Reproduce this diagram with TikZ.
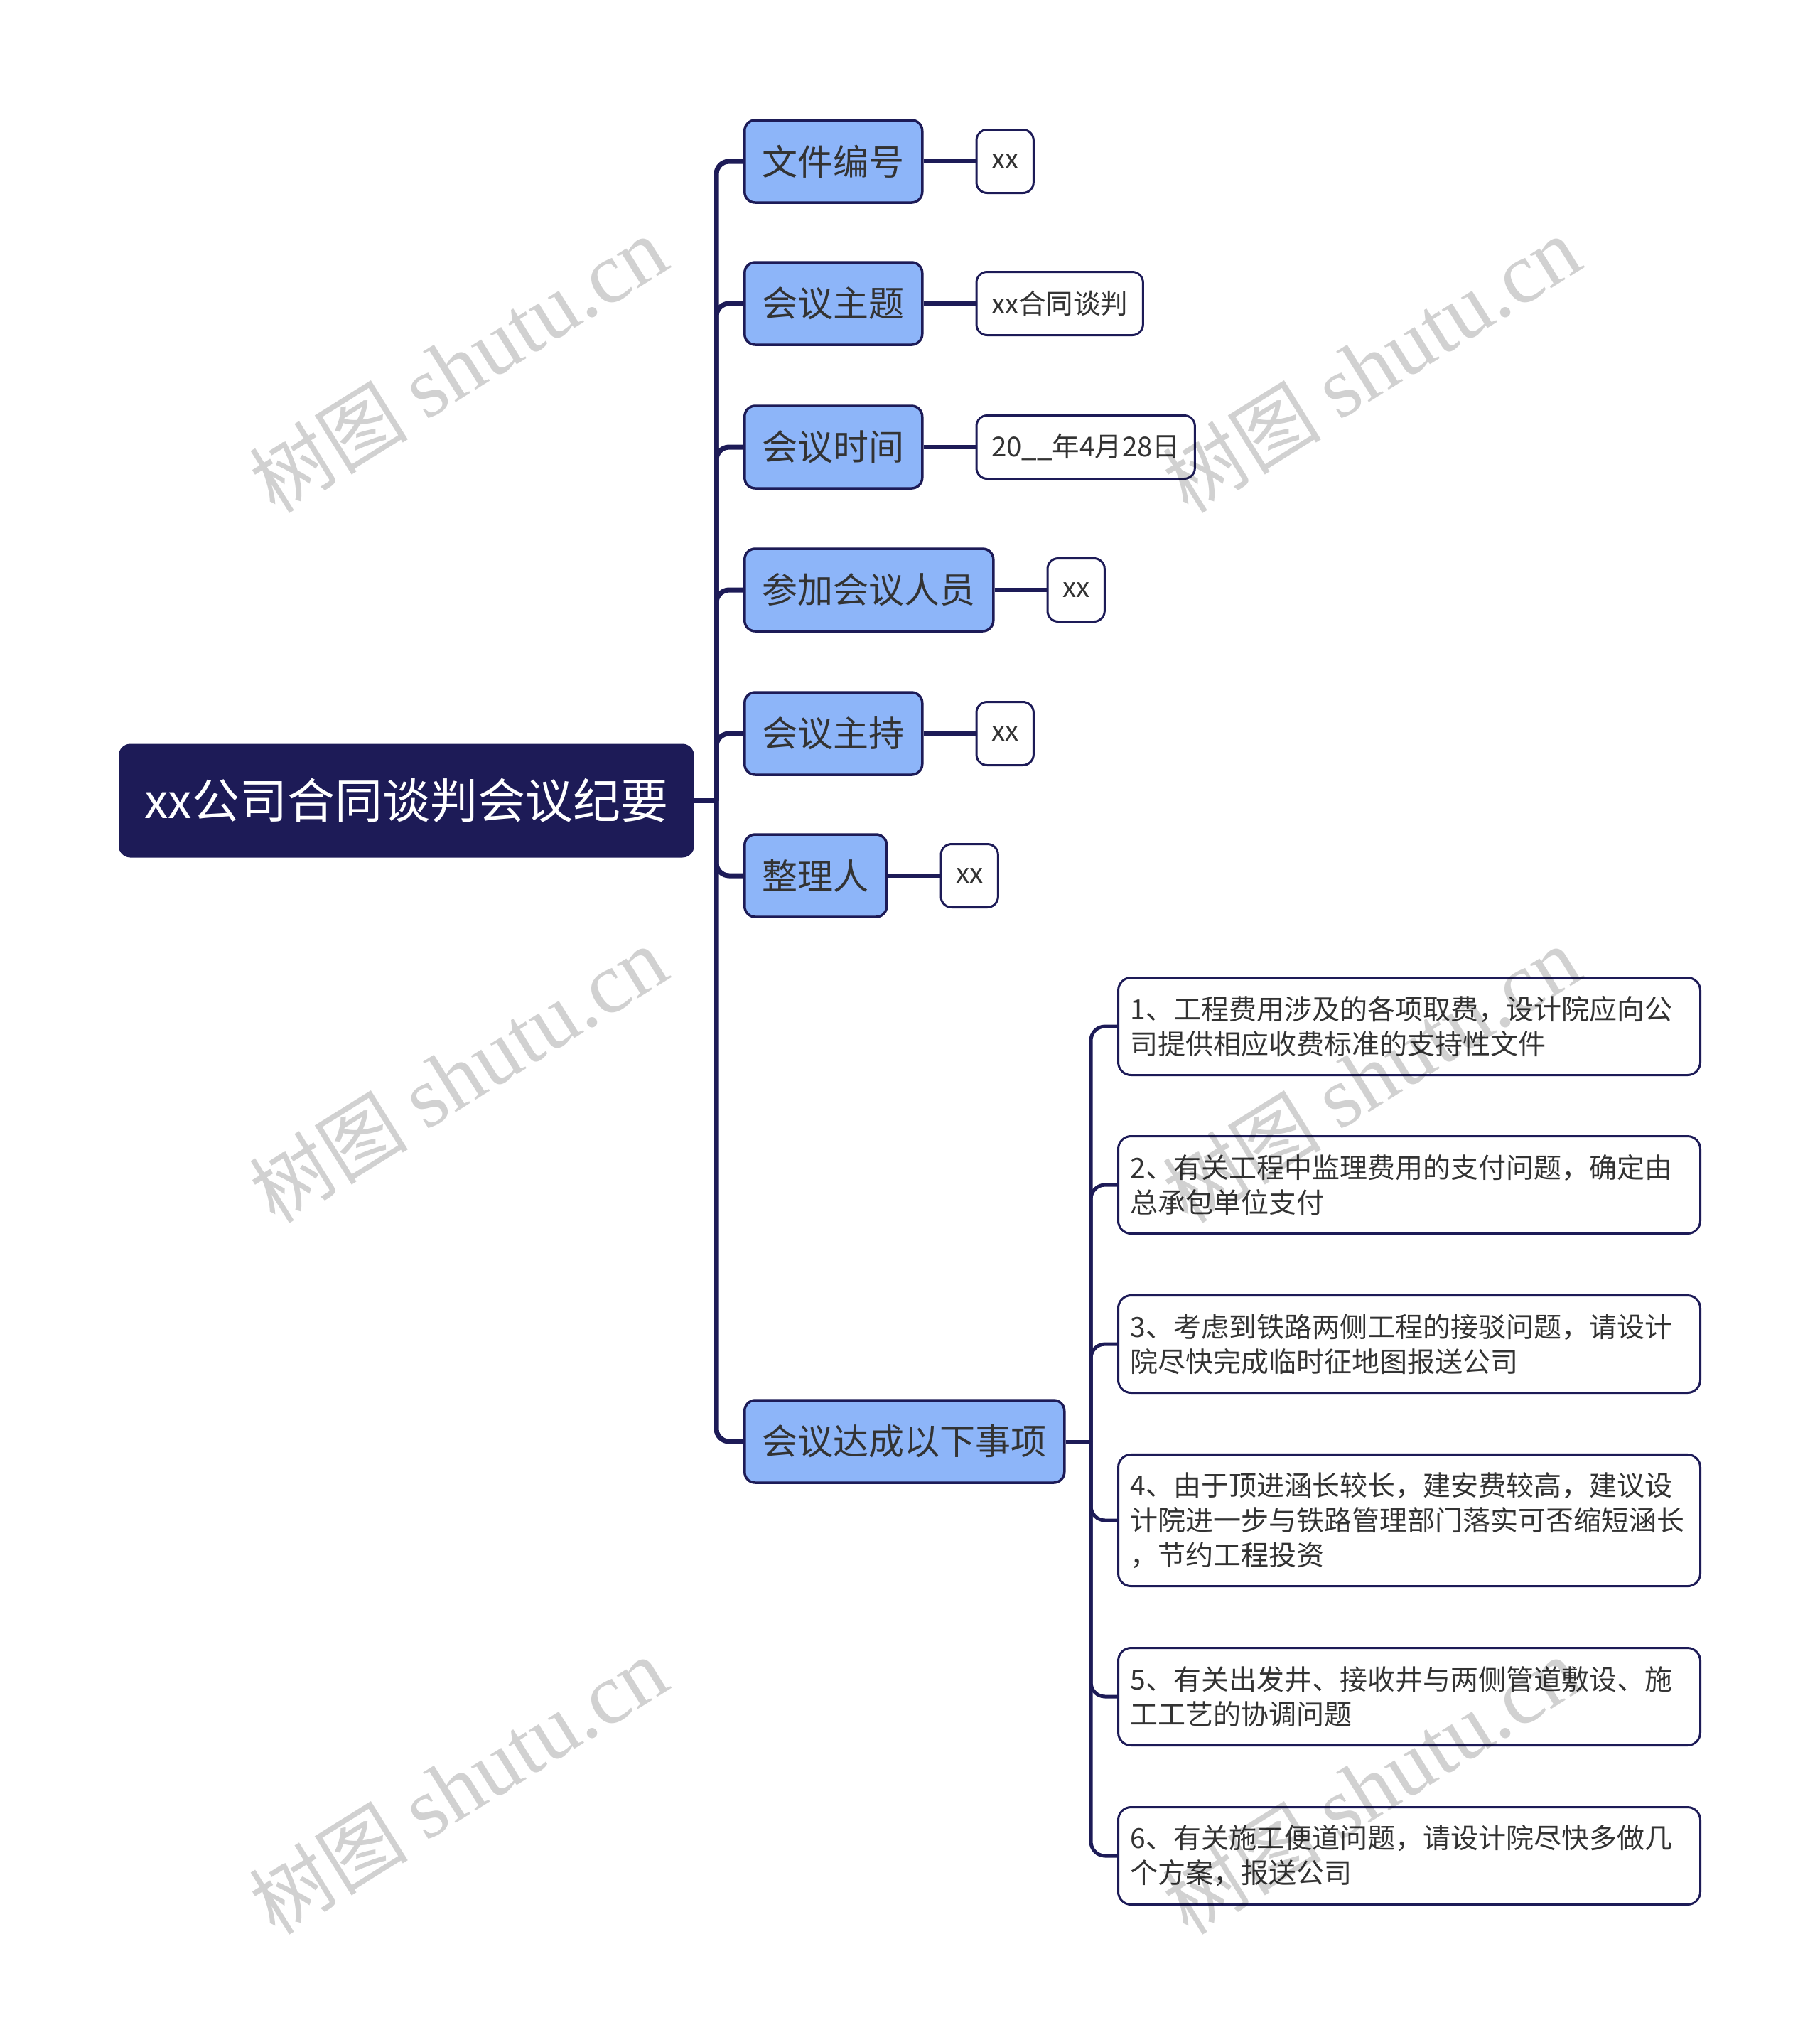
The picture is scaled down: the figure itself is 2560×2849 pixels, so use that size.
\documentclass[tikz,border=0pt]{standalone}
\usepackage{fontspec}
\newfontfamily\cjk{Noto Sans CJK SC}
\newfontfamily\wmlat{Liberation Serif}
\definecolor{navy}{HTML}{1D1B57}
\definecolor{lblue}{HTML}{8DB5F9}
\definecolor{tgray}{HTML}{333333}
\tikzset{
  rootbox/.style={draw=navy, fill=navy, line width=3pt, rounded corners=15pt, text=white,
    font=\cjk\fontsize{67}{80}\selectfont, minimum height=157pt, inner xsep=35pt, inner ysep=0pt},
  lonebox/.style={draw=navy, fill=lblue, line width=3.5pt, rounded corners=15pt, text=tgray,
    font=\cjk\fontsize{50}{60}\selectfont, minimum height=116pt, inner xsep=25pt, inner ysep=0pt},
  leafbox/.style={draw=navy, fill=white, line width=3pt, rounded corners=15pt, text=tgray,
    font=\cjk\fontsize{38.5}{46}\selectfont, minimum height=89pt, inner xsep=21pt, inner ysep=0pt},
  detbox/.style={draw=navy, fill=white, line width=3pt, rounded corners=18pt, text=tgray,
    font=\cjk\fontsize{39}{49}\selectfont, text width=785pt, align=left,
    minimum height=137pt, inner xsep=17pt, inner ysep=25pt},
  conn/.style={draw=navy, line width=7pt},
  conntwo/.style={draw=navy, line width=5pt},
  connleaf/.style={draw=navy, line width=5.5pt},
  wmark/.style={rotate=32, text=black, text opacity=0.18, inner sep=0pt}
}
\begin{document}
\begin{tikzpicture}[x=1pt,y=-1pt]
\useasboundingbox (0,0) rectangle (2560,2849);
% root
\node[rootbox, anchor=west] (root) at (167,1126.5) {xx公司合同谈判会议纪要};
% level one
\node[lonebox, anchor=west] (n1) at (1046,227) {文件编号};
\node[lonebox, anchor=west] (n2) at (1046,427) {会议主题};
\node[lonebox, anchor=west] (n3) at (1046,629) {会议时间};
\node[lonebox, anchor=west] (n4) at (1046,830) {参加会议人员};
\node[lonebox, anchor=west] (n5) at (1046,1032) {会议主持};
\node[lonebox, anchor=west] (n6) at (1046,1232) {整理人};
\node[lonebox, anchor=west] (n7) at (1046,2028) {会议达成以下事项};
% leaves
\node[leafbox, anchor=west] (l1) at ([xshift=73pt]n1.east) {xx};
\node[leafbox, anchor=west] (l2) at ([xshift=73pt]n2.east) {xx合同谈判};
\node[leafbox, anchor=west] (l3) at ([xshift=73pt]n3.east) {20\_\_年4月28日};
\node[leafbox, anchor=west] (l4) at ([xshift=73pt]n4.east) {xx};
\node[leafbox, anchor=west] (l5) at ([xshift=73pt]n5.east) {xx};
\node[leafbox, anchor=west] (l6) at ([xshift=73pt]n6.east) {xx};
% details
\node[detbox, anchor=west] (d1) at (1572,1444) {1、工程费用涉及的各项取费，设计院应向公\\司提供相应收费标准的支持性文件};
\node[detbox, anchor=west] (d2) at (1572,1667) {2、有关工程中监理费用的支付问题，确定由\\总承包单位支付};
\node[detbox, anchor=west] (d3) at (1572,1891) {3、考虑到铁路两侧工程的接驳问题，请设计\\院尽快完成临时征地图报送公司};
\node[detbox, anchor=west] (d4) at (1572,2139) {4、由于顶进涵长较长，建安费较高，建议设\\计院进一步与铁路管理部门落实可否缩短涵长\\，节约工程投资};
\node[detbox, anchor=west] (d5) at (1572,2387) {5、有关出发井、接收井与两侧管道敷设、施\\工工艺的协调问题};
\node[detbox, anchor=west] (d6) at (1572,2611) {6、有关施工便道问题，请设计院尽快多做几\\个方案，报送公司};
% connectors
\coordinate (j1) at (1008,1126.5);
\draw[conn] (root.east) -- (j1);
\foreach \n in {n1,n2,n3,n4,n5,n6,n7}
  \draw[conn, rounded corners=18pt] (j1) |- (\n.west);
\foreach \a/\b in {n1/l1,n2/l2,n3/l3,n4/l4,n5/l5,n6/l6}
  \draw[connleaf] (\a.east) -- (\b.west);
\coordinate (j2) at (1535,2028);
\draw[conntwo] (n7.east) -- (j2);
\foreach \d in {d1,d2,d3,d4,d5,d6}
  \draw[conntwo, rounded corners=20pt] (j2) |- (\d.west);
% watermarks
\foreach \wx/\wy [count=\i] in {645/514,1930/514,645/1513,1930/1513,645/2513,1930/2513}
  \node[wmark] (wm\i) at (\wx,\wy) {{\cjk\fontsize{112}{130}\selectfont 树图}\hspace{26pt}{\wmlat\fontsize{122}{130}\selectfont shutu.cn}};
\end{tikzpicture}
\end{document}
